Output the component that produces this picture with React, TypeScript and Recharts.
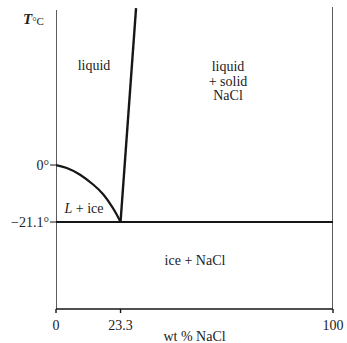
import React from "react";
import {
  ComposedChart,
  Line,
  XAxis,
  YAxis,
} from "recharts";

// NaCl–water phase diagram (wt % NaCl vs T in °C)
const iceWt = [0, 3.9, 8.7, 13.5, 17.1, 20.1, 21.9, 23.3];
const iceT = [0, -1.1, -3.6, -7.3, -10.9, -15.2, -18.3, -21.1];

const saltWt = [23.3, 28.9];
const saltT = [-21.1, 58.1];

const eutecticWt = [0, 100];
const eutecticT = [-21.1, -21.1];

const leftWt = [0, 0];
const leftT = [-53.3, 57.4];
const rightWt = [100, 100];
const rightT = [-53.3, 58.5];

const xTicks = [0, 23.3, 100];
const xTickLabels = ["0", "23.3", "100"];
const yTicks = [0, -21.1];
const yTickLabels = ["0°", "−21.1°"];

const toPoints = (w: number[], t: number[]) => w.map((v, i) => ({ w: v, t: t[i] }));

const FONT = "'Liberation Serif', 'DejaVu Serif', serif";
const INK = "#161616";
const TEXT = "#222";

const App: React.FC = () => {
  const lineProps = {
    dataKey: "t",
    dot: false,
    activeDot: false,
    isAnimationActive: false,
    stroke: INK,
  } as const;

  return (
    <div style={{ position: "absolute", left: 0, top: 0 }}>
      <ComposedChart
        width={347}
        height={343}
        margin={{ top: 7, right: 14, bottom: 0, left: 0 }}
        style={{ fontFamily: FONT }}
      >
        <XAxis
          dataKey="w"
          type="number"
          domain={[0, 100]}
          ticks={xTicks}
          tickFormatter={(v: number) => xTickLabels[xTicks.indexOf(v)]}
          height={34}
          tickSize={4}
          tickMargin={7}
          stroke={INK}
          strokeWidth={1.4}
          tick={{ fill: TEXT, fontSize: 14, fontFamily: FONT }}
          allowDataOverflow
          label={{
            value: "wt % NaCl",
            position: "insideBottom",
            offset: 2,
            fill: TEXT,
            fontSize: 14,
            fontFamily: FONT,
          }}
        />
        <YAxis
          dataKey="t"
          type="number"
          domain={[-53.3, 58.5]}
          ticks={yTicks}
          tickFormatter={(v: number) => yTickLabels[yTicks.indexOf(v)]}
          width={56}
          tickSize={6}
          tickMargin={1}
          axisLine={false}
          stroke={INK}
          tick={{ fill: TEXT, fontSize: 14, fontFamily: FONT }}
          allowDataOverflow
        />
        <Line {...lineProps} data={toPoints(leftWt, leftT)} strokeWidth={1.4} />
        <Line {...lineProps} data={toPoints(rightWt, rightT)} strokeWidth={1.4} />
        <Line {...lineProps} data={toPoints(eutecticWt, eutecticT)} strokeWidth={1.8} />
        <Line {...lineProps} data={toPoints(iceWt, iceT)} type="natural" strokeWidth={2.2} />
        <Line {...lineProps} data={toPoints(saltWt, saltT)} strokeWidth={2.4} />

        <text x={23} y={24} fill={TEXT} fontFamily={FONT}>
          <tspan fontSize={15} fontStyle="italic" fontWeight="bold">T</tspan>
          <tspan fontSize={11} dy={1}>°C</tspan>
        </text>
        <text x={94} y={70} fill={TEXT} fontSize={14} textAnchor="middle" fontFamily={FONT}>
          liquid
        </text>
        <text fill={TEXT} fontSize={14} textAnchor="middle" fontFamily={FONT}>
          <tspan x={228} y={71}>liquid</tspan>
          <tspan x={228} y={86}>+ solid</tspan>
          <tspan x={228} y={100}>NaCl</tspan>
        </text>
        <text x={84} y={213} fill={TEXT} fontSize={14} textAnchor="middle" fontFamily={FONT}>
          <tspan fontStyle="italic">L</tspan> + ice
        </text>
        <text x={195} y={265} fill={TEXT} fontSize={14} textAnchor="middle" fontFamily={FONT}>
          ice + NaCl
        </text>
      </ComposedChart>
    </div>
  );
};

export default App;
